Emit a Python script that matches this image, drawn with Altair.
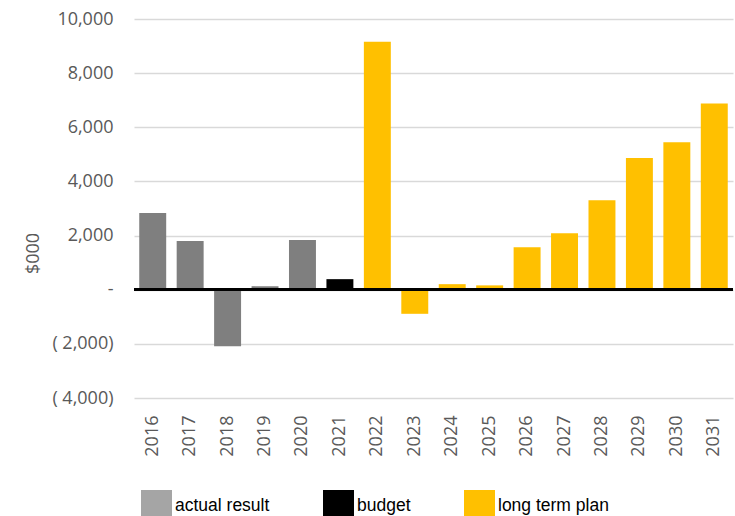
import altair as alt
import pandas as pd

years = [str(y) for y in range(2016, 2032)]
values = [2830, 1800, -2090, 130, 1835, 390, 9160, -890, 205, 160, 1565, 2085, 3305, 4870, 5450, 6880]
categories = ["actual result"] * 5 + ["budget"] + ["long term plan"] * 10
cat_order = ["actual result", "budget", "long term plan"]
bar_colors = {"actual result": "#7f7f7f", "budget": "#000000", "long term plan": "#ffc000"}
legend_colors = ["#a5a5a5", "#000000", "#ffc000"]
y_ticks = [-4000, -2000, 0, 2000, 4000, 6000, 8000, 10000]

df = pd.DataFrame({
    "year": years,
    "value": values,
    "category": categories,
    "hex": [bar_colors[c] for c in categories],
})

AX_FONT = "Open Sans"
AX_COLOR = "#595959"

x_enc = alt.X(
    "year:N",
    sort=years,
    scale=alt.Scale(paddingInner=0.28, paddingOuter=0.14),
    axis=alt.Axis(
        title=None, labelAngle=-90, labelFont=AX_FONT, labelFontSize=18,
        labelColor=AX_COLOR, ticks=False, tickSize=0, domain=False,
        labelPadding=17, grid=False,
    ),
)
y_enc = alt.Y(
    "value:Q",
    scale=alt.Scale(domain=[-4000, 10000], nice=False, zero=False),
    axis=alt.Axis(
        title="$000", values=y_ticks,
        labelExpr="datum.value < 0 ? '( ' + format(-datum.value, ',') + ')' : (datum.value == 0 ? '-\u2009' : format(datum.value, ',') + '\u2009')",
        labelFont=AX_FONT, labelFontSize=18, labelColor=AX_COLOR,
        ticks=False, tickSize=0, domain=False, labelPadding=21,
        grid=True, gridColor="#d9d9d9", gridWidth=1.3,
        titleFont=AX_FONT, titleFontSize=18, titleColor=AX_COLOR,
        titleFontWeight="normal", titleX=-101, titleY=234,
        titleAngle=270, titleAlign="center", titleBaseline="middle",
    ),
)

legend_layer = alt.Chart(df).mark_bar(opacity=0).encode(
    x=x_enc,
    y=y_enc,
    color=alt.Color(
        "category:N",
        scale=alt.Scale(domain=cat_order, range=legend_colors),
        legend=alt.Legend(
            title=None, orient="none", legendX=7, legendY=471,
            direction="horizontal", columns=3, columnPadding=53,
            symbolType="square", symbolSize=961, symbolOpacity=1,
            symbolStrokeWidth=0, labelFont="Liberation Sans",
            labelFontSize=17.5, labelColor="#000000", labelOffset=3,
            padding=0, labelLimit=300,
        ),
    ),
)

bars = alt.Chart(df).mark_bar().encode(
    x=x_enc,
    y=y_enc,
    color=alt.Color("hex:N", scale=None),
)

zero_rule = alt.Chart(df).mark_rule(color="#000000", strokeWidth=2.2).encode(
    y=alt.datum(0)
)

chart = alt.layer(legend_layer, bars, zero_rule).properties(
    width=599,
    height=379,
    autosize=alt.AutoSizeParams(type="none"),
    padding={"left": 134, "top": 19, "right": 2, "bottom": 118},
    background="#ffffff",
).configure_view(stroke=None)

chart.save("out.html", embed_options={"renderer": "svg", "actions": False})
